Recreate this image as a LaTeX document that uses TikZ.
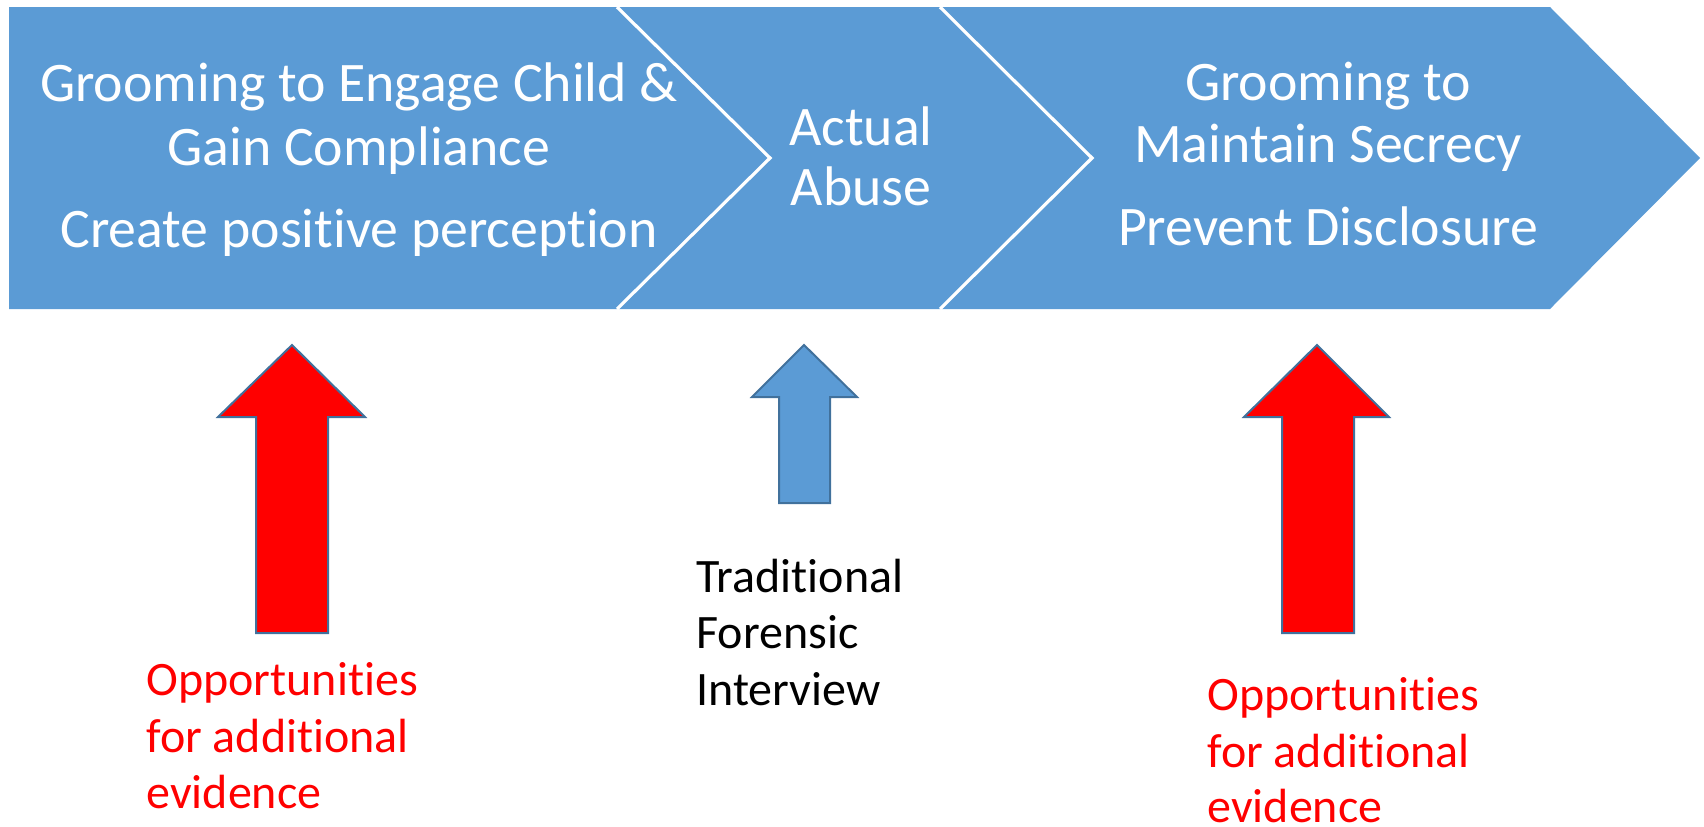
\documentclass[tikz,border=0pt]{standalone}
\usepackage{fontspec}
\setmainfont[Ligatures={NoCommon,NoRequired,NoContextual}]{Carlito}
\newcommand{\nti}{t\kern0pt i}
\definecolor{bandblue}{HTML}{5B9BD5}
\definecolor{edgeblue}{HTML}{41719C}
\definecolor{oppred}{HTML}{FF0000}
\tikzset{
  bandtxt/.style={text=white, font=\fontsize{27.9}{33}\selectfont, inner sep=0pt, anchor=base},
  lowtxt/.style={font=\fontsize{24}{28}\selectfont, inner sep=0pt, anchor=base west},
  uparrow/.style={draw=edgeblue, line width=1pt, line join=miter},
  divider/.style={draw=white, line width=1.6pt}
}
\begin{document}
\begin{tikzpicture}[x=0.5pt,y=-0.5pt]
\useasboundingbox (0,0) rectangle (1704,826);
% band
\fill[bandblue] (9,7) -- (1550,7) -- (1700,158) -- (1550,309) -- (9,309) -- cycle;
\draw[divider] (617,7) -- (770,158) -- (617,309);
\draw[divider] (940,7) -- (1092,158) -- (940,309);
% band texts
\node[bandtxt] (g1) at (359,101) {Grooming to Engage Child \&};
\node[bandtxt] (g2) at (359,165) {Gain Compliance};
\node[bandtxt] (g3) at (359,247) {Create posi\nti ve percep\nti on};
\node[bandtxt] (a1) at (861,145) {Actual};
\node[bandtxt] (a2) at (861,205) {Abuse};
\node[bandtxt] (m1) at (1328,100) {Grooming to};
\node[bandtxt] (m2) at (1328,162) {Maintain Secrecy};
\node[bandtxt] (m3) at (1328,245) {Prevent Disclosure};
% arrows
\draw[uparrow, fill=oppred] (292,345) -- (365,417) -- (328,417) -- (328,633) -- (256,633) -- (256,417) -- (218,417) -- cycle;
\draw[uparrow, fill=bandblue] (804,345) -- (857,397) -- (830,397) -- (830,503) -- (779,503) -- (779,397) -- (752,397) -- cycle;
\draw[uparrow, fill=oppred] (1317,345) -- (1389,417) -- (1354,417) -- (1354,633) -- (1282,633) -- (1282,417) -- (1244,417) -- cycle;
% lower texts
\node[lowtxt] (f1) at (696,592) {Tradi\nti onal};
\node[lowtxt] (f2) at (696,648) {Forensic};
\node[lowtxt] (f3) at (696,705) {Interview};
\node[lowtxt, text=oppred] (o1) at (146,695) {Opportuni\nti es};
\node[lowtxt, text=oppred] (o2) at (146,752) {for addi\nti onal};
\node[lowtxt, text=oppred] (o3) at (146,808) {evidence};
\node[lowtxt, text=oppred] (p1) at (1207,710) {Opportuni\nti es};
\node[lowtxt, text=oppred] (p2) at (1207,767) {for addi\nti onal};
\node[lowtxt, text=oppred] (p3) at (1207,822) {evidence};
\end{tikzpicture}
\end{document}
